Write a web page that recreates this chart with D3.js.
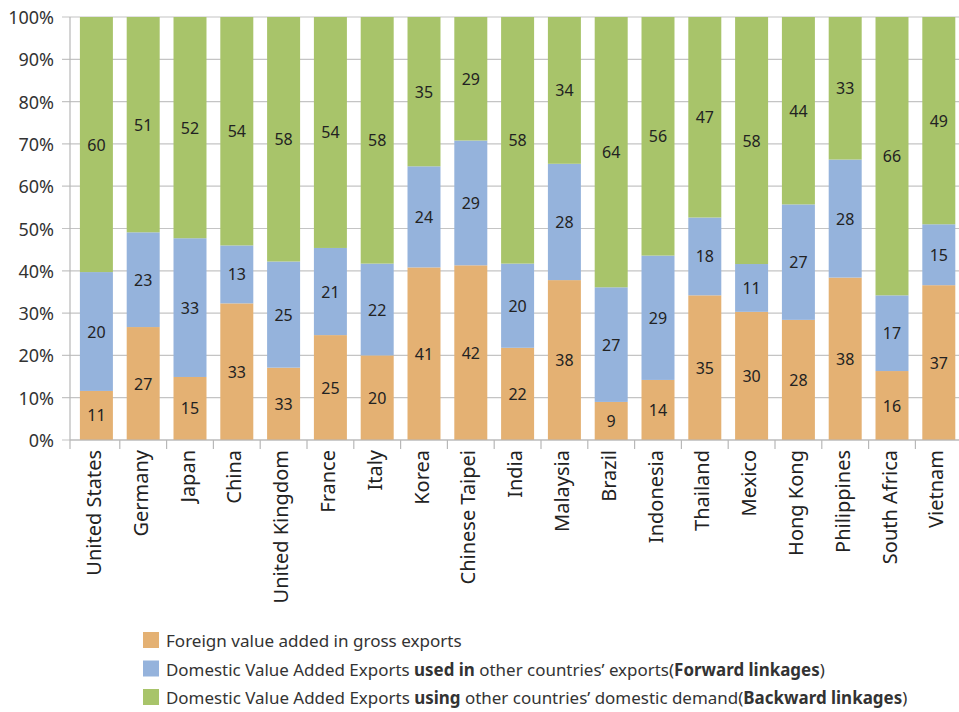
<!DOCTYPE html>
<html>
<head>
<meta charset="utf-8">
<script src="https://cdn.jsdelivr.net/npm/d3@7"></script>
<style>
  body { margin: 0; background: #fff; }
  svg text { font-family: "Noto Sans", "Open Sans", sans-serif; fill: #222; }
</style>
</head>
<body>
<div id="chart"></div>
<script>
// Countries on the x axis
const countries = ['United States', 'Germany', 'Japan', 'China', 'United Kingdom', 'France', 'Italy',
    'Korea', 'Chinese Taipei', 'India', 'Malaysia', 'Brazil', 'Indonesia', 'Thailand', 'Mexico',
    'Hong Kong', 'Philippines', 'South Africa', 'Vietnam'];

// Segment heights (% of gross exports) as drawn
const foreignVA = [11.6, 26.7, 14.9, 32.3, 17.1, 24.8, 20.0, 40.8, 41.3, 21.8, 37.8, 9.0, 14.2, 34.2, 30.3, 28.4, 38.4, 16.3, 36.6];
const forwardVA = [28.1, 22.4, 32.8, 13.7, 25.1, 20.6, 21.7, 23.9, 29.5, 19.9, 27.5, 27.1, 29.4, 18.4, 11.3, 27.3, 27.9, 17.9, 14.4];
const backwardVA = [60.3, 50.9, 52.3, 54.0, 57.8, 54.6, 58.3, 35.3, 29.2, 58.3, 34.7, 63.9, 56.4, 47.4, 58.4, 44.3, 33.7, 65.8, 49.0];

// Numbers printed on the segments
const foreignLabels = [11, 27, 15, 33, 33, 25, 20, 41, 42, 22, 38, 9, 14, 35, 30, 28, 38, 16, 37];
const forwardLabels = [20, 23, 33, 13, 25, 21, 22, 24, 29, 20, 28, 27, 29, 18, 11, 27, 28, 17, 15];
const backwardLabels = [60, 51, 52, 54, 58, 54, 58, 35, 29, 58, 34, 64, 56, 47, 58, 44, 33, 66, 49];

const yTicks = [0, 10, 20, 30, 40, 50, 60, 70, 80, 90, 100];

const seriesKeys = ['foreign', 'forward', 'backward'];
const colors = { foreign: '#E4B173', forward: '#95B3DC', backward: '#A8C46A' };
const labels = { foreign: foreignLabels, forward: forwardLabels, backward: backwardLabels };

const width = 959, height = 712;
const margin = { top: 17, right: 0, bottom: 272, left: 70 };

const rows = countries.map((c, i) => ({
    country: c, i,
    foreign: foreignVA[i], forward: forwardVA[i], backward: backwardVA[i]
}));

const svg = d3.select('#chart').append('svg')
    .attr('width', width).attr('height', height);

const x = d3.scaleBand()
    .domain(countries)
    .range([73, 962.2])
    .paddingInner(0.295).paddingOuter(0.1475);

const y = d3.scaleLinear()
    .domain([0, 100])
    .range([height - margin.bottom, margin.top]);

// grid lines
svg.append('g')
    .selectAll('line')
    .data(yTicks)
    .join('line')
    .attr('x1', margin.left - 8).attr('x2', width)
    .attr('y1', d => y(d)).attr('y2', d => y(d))
    .style('stroke', '#c4c4c4').style('stroke-width', 1.2);

// y axis labels
svg.append('g')
    .selectAll('text')
    .data(yTicks)
    .join('text')
    .attr('x', 54).attr('y', d => y(d))
    .attr('text-anchor', 'end')
    .attr('dominant-baseline', 'central')
    .attr('font-size', 18)
    .style('fill', '#333')
    .text(d => d + '%');

// stacked bars
const stack = d3.stack().keys(seriesKeys);
const stacked = stack(rows);

const layer = svg.append('g').selectAll('g')
    .data(stacked)
    .join('g')
    .style('fill', d => colors[d.key]);

layer.selectAll('rect')
    .data(d => d)
    .join('rect')
    .attr('x', d => x(d.data.country))
    .attr('width', x.bandwidth())
    .attr('y', d => y(d[1]))
    .attr('height', d => y(d[0]) - y(d[1]));

// segment labels
const labelLayer = svg.append('g').selectAll('g')
    .data(stacked)
    .join('g');

labelLayer.selectAll('text')
    .data(s => s.map(d => ({ d, key: s.key })))
    .join('text')
    .attr('x', o => x(o.d.data.country) + x.bandwidth() / 2)
    .attr('y', o => y((o.d[0] + o.d[1]) / 2))
    .attr('text-anchor', 'middle')
    .attr('dominant-baseline', 'central')
    .attr('font-size', 16)
    .text(o => labels[o.key][o.d.data.i]);

// axes lines
const x0 = y(0);
svg.append('line')
    .attr('x1', margin.left).attr('x2', margin.left)
    .attr('y1', margin.top).attr('y2', x0 + 9)
    .style('stroke', '#b8b8b8').style('stroke-width', 1.2);
svg.append('line')
    .attr('x1', margin.left).attr('x2', width)
    .attr('y1', x0).attr('y2', x0)
    .style('stroke', '#b8b8b8').style('stroke-width', 1.2);

// category separators
const step = x.step();
svg.append('g')
    .selectAll('line')
    .data(countries.slice(1))
    .join('line')
    .attr('x1', d => x(d) - step * x.paddingInner() / 2)
    .attr('x2', d => x(d) - step * x.paddingInner() / 2)
    .attr('y1', x0).attr('y2', x0 + 9)
    .style('stroke', '#b8b8b8').style('stroke-width', 1.2);

// category labels
svg.append('g')
    .selectAll('text')
    .data(countries)
    .join('text')
    .attr('transform', d => `translate(${x(d) + x.bandwidth() / 2 - 3},${x0 + 10}) rotate(-90)`)
    .attr('text-anchor', 'end')
    .attr('dominant-baseline', 'central')
    .attr('font-size', 20)
    .text(d => d);

// legend
const legendItems = [
    { key: 'foreign', parts: [['Foreign value added in gross exports', 400]], w: 296 },
    { key: 'forward', parts: [['Domestic Value Added Exports ', 400], ['used in', 700],
        [' other countries\u2019 exports', 400], ['(', 400], ['Forward linkages', 700], [')', 400]], w: 659 },
    { key: 'backward', parts: [['Domestic Value Added Exports ', 400], ['using', 700],
        [' other countries\u2019 domestic demand', 400], ['(', 400], ['Backward linkages', 700], [')', 400]], w: 742 }
];

const legend = svg.append('g').selectAll('g')
    .data(legendItems)
    .join('g')
    .attr('transform', (d, i) => `translate(143,${640 + i * 28.5})`);

legend.append('rect')
    .attr('x', 0).attr('y', -8)
    .attr('width', 16).attr('height', 16)
    .style('fill', d => colors[d.key]);

legend.append('text')
    .attr('x', 23)
    .attr('y', 0)
    .attr('dominant-baseline', 'central')
    .attr('font-size', 17)
    .style('fill', '#333')
    .each(function (d) {
        const t = d3.select(this);
        d.parts.forEach(p => t.append('tspan').attr('font-weight', p[1]).text(p[0]));
        const w = this.getComputedTextLength();
        t.attr('transform', `translate(23,0) scale(${d.w / w},1) translate(-23,0)`);
    });
</script>
</body>
</html>
